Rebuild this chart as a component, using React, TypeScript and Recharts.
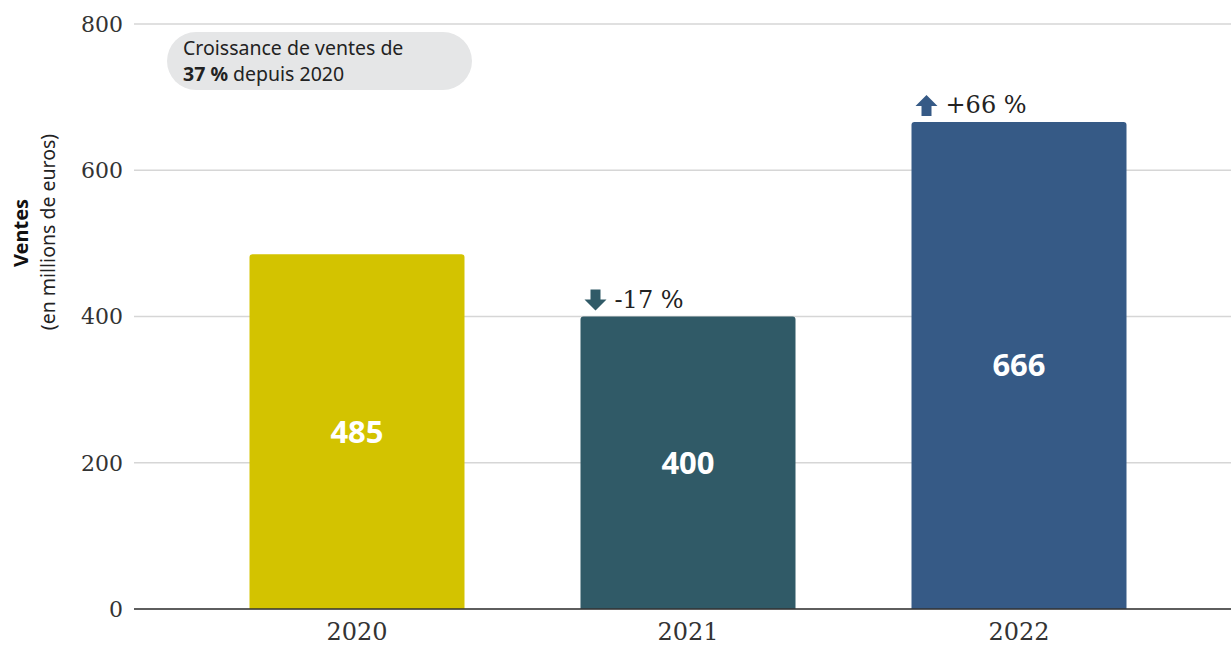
import { BarChart, Bar, XAxis, YAxis, CartesianGrid, Cell, LabelList, Customized } from 'recharts'

// sales per year, in millions of euros
const years = ['2020', '2021', '2022']
const sales = [485, 400, 666]
const changes: (number | null)[] = [null, -17, 66]
const barColors = ['#d3c300', '#305a67', '#365a86']
const yTicks = [0, 200, 400, 600, 800]

const data = years.map((year, i) => ({ year, sales: sales[i], change: changes[i] }))

const TICK_FONT = '"DejaVu Serif", serif'
const SANS = '"Noto Sans", "Open Sans", sans-serif'

function ChangeLabel(props: any) {
  const { x, y, index } = props
  const change = changes[index]
  if (change == null) return null
  const color = barColors[index]
  const ax = x + 4
  const ay = y - 27
  const up = change > 0
  const path = up
    ? `M${ax + 11},${ay} L${ax + 22},${ay + 11} L${ax + 16},${ay + 11} L${ax + 16},${ay + 21} L${ax + 6},${ay + 21} L${ax + 6},${ay + 11} L${ax},${ay + 11} Z`
    : `M${ax + 6},${ay} L${ax + 16},${ay} L${ax + 16},${ay + 10} L${ax + 22},${ay + 10} L${ax + 11},${ay + 21} L${ax},${ay + 10} L${ax + 6},${ay + 10} Z`
  return (
    <g>
      <path d={path} fill={color} />
      <text x={x + 34} y={y - 9} fontSize={24} fontFamily={TICK_FONT} fill="#222">
        {(up ? '+' : '') + change + ' %'}
      </text>
    </g>
  )
}

function Overlay() {
  return (
    <g>
      <rect x={167} y={32} width={305} height={58} rx={29} fill="#e5e6e7" />
      <text x={183} y={55} fontSize={19.5} fontFamily={SANS} fill="#222">
        Croissance de ventes de
      </text>
      <text x={183} y={81} fontSize={19.5} fontFamily={SANS} fill="#222">
        <tspan fontWeight="bold">37 %</tspan> depuis 2020
      </text>
      <text
        transform="translate(28, 233) rotate(-90)"
        textAnchor="middle"
        fontSize={20}
        fontWeight="bold"
        fontFamily={SANS}
        fill="#111"
      >
        Ventes
      </text>
      <text
        transform="translate(55, 232) rotate(-90)"
        textAnchor="middle"
        fontSize={19.5}
        fontFamily={SANS}
        fill="#222"
      >
        (en millions de euros)
      </text>
    </g>
  )
}

export default function App() {
  return (
    <div style={{ position: 'absolute', left: 0, top: 0, width: 1231, height: 646, background: '#fff' }}>
      <BarChart
        width={1231}
        height={646}
        data={data}
        margin={{ top: 24, right: 0, left: 0, bottom: 0 }}
      >
        <CartesianGrid vertical={false} stroke="#d6d6d6" strokeWidth={1.5} />
        <XAxis
          dataKey="year"
          height={37}
          padding={{ left: 57.5, right: 46.5 }}
          tickLine={false}
          tickSize={0}
          tickMargin={14}
          axisLine={{ stroke: '#333', strokeWidth: 1.5 }}
          tick={{ fontSize: 24, fontFamily: TICK_FONT, fill: '#333' }}
        />
        <YAxis
          width={134}
          domain={[0, 800]}
          ticks={yTicks}
          axisLine={false}
          tickLine={false}
          tickSize={0}
          tickMargin={11}
          tick={{ fontSize: 22, fontFamily: TICK_FONT, fill: '#333' }}
        />
        <Bar dataKey="sales" barSize={215} radius={[3, 3, 0, 0]} isAnimationActive={false}>
          {data.map((d, i) => (
            <Cell key={d.year} fill={barColors[i]} />
          ))}
          <LabelList
            dataKey="sales"
            position="center"
            fill="#fff"
            fontSize={31}
            fontWeight="bold"
            fontFamily={SANS}
          />
          <LabelList dataKey="change" content={ChangeLabel} />
        </Bar>
        <Customized component={Overlay} />
      </BarChart>
    </div>
  )
}
